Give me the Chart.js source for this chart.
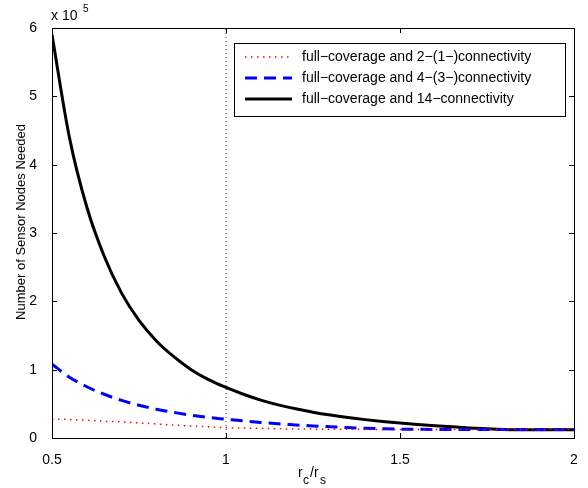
<!DOCTYPE html>
<html>
<head>
<meta charset="utf-8">
<script src="https://cdn.jsdelivr.net/npm/chart.js@4/dist/chart.umd.min.js"></script>
<style>
  html, body { margin: 0; padding: 0; background: #fff; }
  #wrap { width: 588px; height: 488px; }
</style>
</head>
<body>
<div id="wrap"><canvas id="myChart" width="588" height="488"></canvas></div>
<script>
// r_c / r_s values
var ratio = [0.5, 0.55, 0.6, 0.65, 0.7, 0.75, 0.8, 0.85, 0.9, 0.95, 1.0,
             1.05, 1.1, 1.15, 1.2, 1.25, 1.3, 1.35, 1.4, 1.45, 1.5,
             1.55, 1.6, 1.65, 1.7, 1.75, 1.8, 1.85, 1.9, 1.95, 2.0];

// number of sensor nodes (units of 1e5)
var conn2 = [0.28, 0.27, 0.26, 0.245, 0.235, 0.22, 0.205, 0.19, 0.175, 0.163, 0.152,
             0.145, 0.14, 0.135, 0.132, 0.13, 0.128, 0.127, 0.126, 0.125, 0.125,
             0.125, 0.125, 0.125, 0.125, 0.125, 0.125, 0.125, 0.125, 0.125, 0.125];
var conn4 = [1.08, 0.89, 0.75, 0.64, 0.55, 0.48, 0.42, 0.375, 0.333, 0.30, 0.275,
             0.25, 0.228, 0.208, 0.192, 0.176, 0.164, 0.153, 0.143, 0.136, 0.13,
             0.127, 0.125, 0.125, 0.125, 0.125, 0.125, 0.125, 0.125, 0.125, 0.125];
var conn14 = [5.90, 4.40, 3.38, 2.66, 2.12, 1.72, 1.42, 1.19, 1.00, 0.855, 0.74,
              0.64, 0.555, 0.485, 0.428, 0.378, 0.336, 0.30, 0.269, 0.242, 0.219,
              0.198, 0.18, 0.163, 0.148, 0.135, 0.125, 0.12, 0.12, 0.12, 0.12];

var seriesLabels = ['full\u2212coverage and 2\u2212(1\u2212)connectivity',
                    'full\u2212coverage and 4\u2212(3\u2212)connectivity',
                    'full\u2212coverage and 14\u2212connectivity'];
var xTicks = [0.5, 1, 1.5, 2];
var yTicks = [0, 1, 2, 3, 4, 5, 6];

var FONT = '"Liberation Sans", Arial, Helvetica, sans-serif';

function pts(vals) {
  var out = [];
  for (var i = 0; i < ratio.length; i++) {
    out.push({x: ratio[i], y: vals[i] * 1e5});
  }
  return out;
}

var styles = [
  {color: '#ff0000', width: 1.5, dash: [1.5, 4.5]},
  {color: '#0000ff', width: 3, dash: [12, 7]},
  {color: '#000000', width: 3, dash: []}
];

var datasets = [
  {
    label: 'marker',
    data: [{x: 1, y: 0}, {x: 1, y: 6e5}],
    borderColor: '#333',
    borderWidth: 1,
    borderDash: [1, 3],
    pointRadius: 0,
    tension: 0
  }
];
[conn2, conn4, conn14].forEach(function(s, i) {
  datasets.push({
    label: seriesLabels[i],
    data: pts(s),
    borderColor: styles[i].color,
    borderWidth: styles[i].width,
    borderDash: styles[i].dash,
    pointRadius: 0,
    cubicInterpolationMode: 'monotone'
  });
});

// box, inner ticks, legend and axis titles
var decor = {
  id: 'decor',
  afterDraw: function(chart) {
    var ctx = chart.ctx, a = chart.chartArea;
    var xs = chart.scales.x, ys = chart.scales.y;
    ctx.save();
    ctx.strokeStyle = '#000';
    ctx.lineWidth = 1;
    ctx.setLineDash([]);
    ctx.strokeRect(a.left + 0.5, a.top + 0.5, a.right - a.left, a.bottom - a.top);

    ctx.beginPath();
    xTicks.forEach(function(v) {
      var px = Math.round(xs.getPixelForValue(v)) + 0.5;
      ctx.moveTo(px, a.bottom); ctx.lineTo(px, a.bottom - 5);
      ctx.moveTo(px, a.top); ctx.lineTo(px, a.top + 5);
    });
    yTicks.forEach(function(v) {
      var py = Math.round(ys.getPixelForValue(v * 1e5)) + 0.5;
      ctx.moveTo(a.left, py); ctx.lineTo(a.left + 5, py);
      ctx.moveTo(a.right, py); ctx.lineTo(a.right - 5, py);
    });
    ctx.stroke();

    // legend
    var lx = 234, ly = 43, lw = 331, lh = 73;
    ctx.fillStyle = '#fff';
    ctx.fillRect(lx, ly, lw, lh);
    ctx.strokeRect(lx + 0.5, ly + 0.5, lw, lh);
    ctx.font = '14px ' + FONT;
    ctx.textBaseline = 'middle';
    ctx.textAlign = 'left';
    for (var i = 0; i < 3; i++) {
      var yy = ly + 14 + i * 21;
      ctx.strokeStyle = styles[i].color;
      ctx.lineWidth = styles[i].width;
      ctx.setLineDash(styles[i].dash);
      ctx.beginPath();
      ctx.moveTo(lx + 11, yy);
      ctx.lineTo(lx + 58, yy);
      ctx.stroke();
      ctx.fillStyle = '#000';
      ctx.fillText(seriesLabels[i], lx + 68, yy);
    }
    ctx.setLineDash([]);

    // exponent
    ctx.fillStyle = '#000';
    ctx.textBaseline = 'alphabetic';
    ctx.font = '14px ' + FONT;
    ctx.fillText('x 10', 51, 20);
    ctx.font = '10px ' + FONT;
    ctx.fillText('5', 83, 12);

    // x title r_c/r_s
    ctx.font = '14px ' + FONT;
    var x0 = 298;
    ctx.fillText('r', x0, 477);
    ctx.font = '12px ' + FONT;
    ctx.fillText('c', x0 + 5, 484);
    ctx.font = '14px ' + FONT;
    ctx.fillText('/r', x0 + 12, 477);
    ctx.font = '12px ' + FONT;
    ctx.fillText('s', x0 + 22, 484);

    // y title
    ctx.translate(21, 222);
    ctx.rotate(-Math.PI / 2);
    ctx.textAlign = 'center';
    ctx.textBaseline = 'middle';
    ctx.font = '13px ' + FONT;
    ctx.fillText('Number of Sensor Nodes Needed', 0, 0);
    ctx.restore();
  }
};

var ctx = document.getElementById('myChart').getContext('2d');
var myChart = new Chart(ctx, {
  type: 'line',
  data: { datasets: datasets },
  options: {
    responsive: false,
    animation: false,
    layout: { padding: { left: 0, top: 28, right: 14, bottom: 0 } },
    plugins: { legend: { display: false }, tooltip: { enabled: false } },
    scales: {
      x: {
        type: 'linear',
        min: 0.5,
        max: 2,
        grid: { display: false },
        border: { display: false },
        ticks: {
          stepSize: 0.5,
          padding: 6,
          color: '#000',
          maxRotation: 0,
          font: { family: FONT, size: 14 },
          callback: function(v) { return xTicks.indexOf(v) >= 0 ? String(v) : ''; }
        },
        afterFit: function(s) { s.height = 50; }
      },
      y: {
        min: 0,
        max: 6e5,
        grid: { display: false },
        border: { display: false },
        ticks: {
          stepSize: 1e5,
          padding: 7,
          color: '#000',
          font: { family: FONT, size: 14 },
          callback: function(v) { return String(v / 1e5); }
        },
        afterFit: function(s) { s.width = 52; }
      }
    }
  },
  plugins: [decor]
});
</script>
</body>
</html>
